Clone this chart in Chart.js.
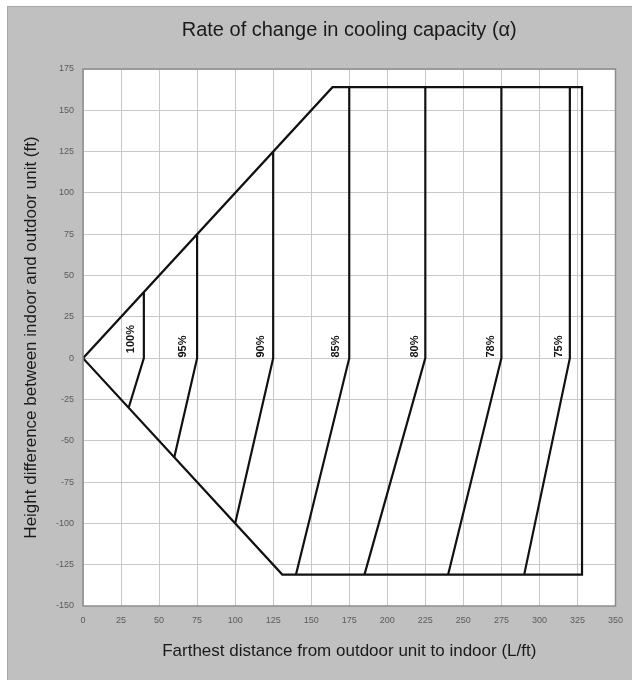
<!DOCTYPE html>
<html>
<head>
<meta charset="utf-8">
<script src="https://cdn.jsdelivr.net/npm/chart.js@4.4.0/dist/chart.umd.min.js"></script>
<style>
  html, body { margin: 0; padding: 0; background: #ffffff; }
  #frame {
    position: absolute; left: 7px; top: 6px; width: 625px; height: 674px;
    background: #c0c0c0; border-left: 1px solid #a8a8a8; border-top: 1px solid #a8a8a8;
    box-sizing: border-box;
  }
  #wrap { position: absolute; left: -1px; top: -1px; width: 625px; height: 674px; }
</style>
</head>
<body>
<div id="frame"><div id="wrap"><canvas id="chart"></canvas></div></div>
<script>
// outer envelope of the allowed piping range
const boundaryX = [0, 164, 328, 328, 131, 0];
const boundaryY = [0, 164, 164, -131, -131, 0];

// capacity curves: top of vertical -> bend at 0 -> bottom end
const capacityLabels = ['100%', '95%', '90%', '85%', '80%', '78%', '75%'];
const verticalX = [40, 75, 125, 175, 225, 275, 320];
const topY = [40, 75, 125, 164, 164, 164, 164];
const bottomX = [30, 60, 100, 140, 185, 240, 290];
const bottomY = [-30, -60, -100, -131, -131, -131, -131];

// where each percentage label sits
const labelX = [31.5, 66, 117, 166.5, 218, 268, 313];
const labelY = [11.5, 7, 7, 7, 7, 7, 7];

const xTicks = [0, 25, 50, 75, 100, 125, 150, 175, 200, 225, 250, 275, 300, 325, 350];
const yTicks = [-150, -125, -100, -75, -50, -25, 0, 25, 50, 75, 100, 125, 150, 175];

const lineStyle = { borderColor: '#111111', borderWidth: 2.2, pointRadius: 0, showLine: true, fill: false, tension: 0 };

const datasets = [];
datasets.push(Object.assign({
  label: 'boundary',
  data: boundaryX.map((x, i) => ({ x: x, y: boundaryY[i] }))
}, lineStyle));
capacityLabels.forEach((lbl, i) => {
  datasets.push(Object.assign({
    label: lbl,
    data: [
      { x: verticalX[i], y: topY[i] },
      { x: verticalX[i], y: 0 },
      { x: bottomX[i], y: bottomY[i] }
    ]
  }, lineStyle));
});

// percentage labels, rotated, placed through the scales
const curveLabels = {
  id: 'curveLabels',
  afterDatasetsDraw(chart) {
    const ctx = chart.ctx;
    const xs = chart.scales.x, ys = chart.scales.y;
    ctx.save();
    ctx.fillStyle = '#111111';
    ctx.font = 'bold 11px "Liberation Sans", Arial, sans-serif';
    ctx.textAlign = 'center';
    ctx.textBaseline = 'middle';
    capacityLabels.forEach((lbl, i) => {
      ctx.save();
      ctx.translate(xs.getPixelForValue(labelX[i]), ys.getPixelForValue(labelY[i]));
      ctx.rotate(-Math.PI / 2);
      ctx.fillText(lbl, 0, 0);
      ctx.restore();
    });
    ctx.restore();
  }
};

// white plot area with gray frame
const plotBack = {
  id: 'plotBack',
  beforeDraw(chart) {
    const a = chart.chartArea, ctx = chart.ctx;
    ctx.save();
    ctx.fillStyle = '#ffffff';
    ctx.fillRect(a.left, a.top, a.right - a.left, a.bottom - a.top);
    ctx.restore();
  },
  afterDraw(chart) {
    const a = chart.chartArea, ctx = chart.ctx;
    ctx.save();
    ctx.strokeStyle = '#8c8c8c';
    ctx.lineWidth = 1.5;
    ctx.strokeRect(a.left, a.top, a.right - a.left, a.bottom - a.top);
    ctx.restore();
  }
};

const font = '"Liberation Sans", Arial, sans-serif';

new Chart(document.getElementById('chart').getContext('2d'), {
  type: 'scatter',
  data: { datasets: datasets },
  options: {
    responsive: true,
    maintainAspectRatio: false,
    animation: false,
    layout: { padding: { left: 0, right: 16, top: 0, bottom: 0 } },
    plugins: {
      legend: { display: false },
      tooltip: { enabled: false },
      title: {
        display: true,
        fullSize: false,
        text: 'Rate of change in cooling capacity (α)',
        color: '#1a1a1a',
        font: { family: font, size: 20, weight: 'normal' },
        padding: { top: 12, bottom: 27 }
      }
    },
    scales: {
      x: {
        type: 'linear',
        min: 0, max: 350,
        afterBuildTicks(scale) { scale.ticks = xTicks.map(v => ({ value: v })); },
        afterFit(scale) { scale.height = 74; },
        ticks: { color: '#5a5a5a', font: { family: font, size: 9 }, padding: 9, maxRotation: 0 },
        grid: { color: '#c8c8c8', lineWidth: 1, drawTicks: false },
        border: { display: false },
        title: {
          display: true,
          text: 'Farthest distance from outdoor unit to indoor (L/ft)',
          color: '#1a1a1a',
          font: { family: font, size: 17 },
          padding: { top: 0, bottom: 18 }
        }
      },
      y: {
        type: 'linear',
        min: -150, max: 175,
        afterBuildTicks(scale) { scale.ticks = yTicks.map(v => ({ value: v })); },
        afterFit(scale) { scale.width = 76; },
        ticks: { color: '#5a5a5a', font: { family: font, size: 9 }, padding: 9 },
        grid: { color: '#c8c8c8', lineWidth: 1, drawTicks: false },
        border: { display: false },
        title: {
          display: true,
          text: 'Height difference between indoor and outdoor unit (ft)',
          color: '#1a1a1a',
          font: { family: font, size: 17 },
          padding: { top: 14, bottom: 0 }
        }
      }
    }
  },
  plugins: [plotBack, curveLabels]
});
</script>
</body>
</html>
